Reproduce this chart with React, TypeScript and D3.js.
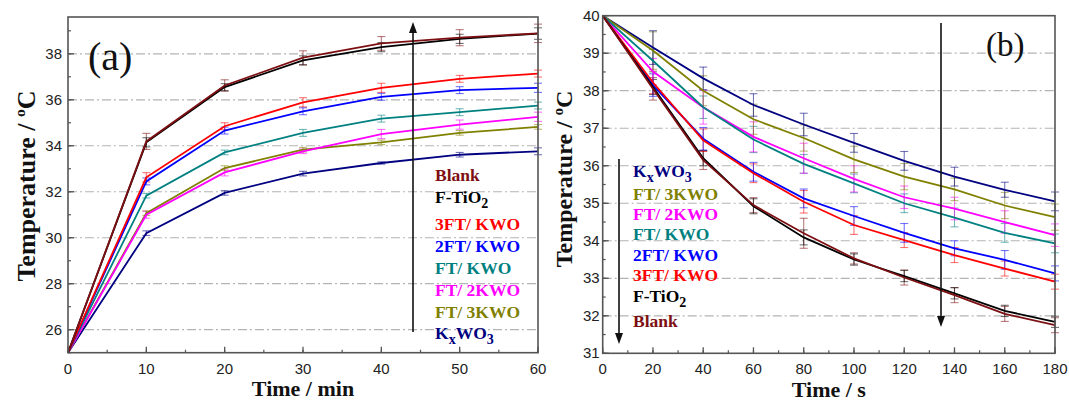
import React from 'react';
import * as d3 from 'd3';

// ---------- shared ----------
const seriesNames = ['Blank', 'F-TiO2', '3FT/ KWO', '2FT/ KWO', 'FT/ KWO', 'FT/ 2KWO', 'FT/ 3KWO', 'KxWO3'];
const seriesColors = ['#7d0f12', '#000000', '#ff0000', '#0000ff', '#008080', '#ff00ff', '#808000', '#000080'];

// ---------- panel (a) heating ----------
const timeA = [0, 10, 20, 30, 40, 50, 60];
const blankA = [25, 34.19, 36.62, 37.83, 38.45, 38.70, 38.89];
const ftioA = [25, 34.15, 36.55, 37.71, 38.29, 38.65, 38.88];
const ft3kwoA = [25, 32.63, 34.85, 35.89, 36.52, 36.91, 37.14];
const ft2kwoA = [25, 32.45, 34.66, 35.50, 36.13, 36.42, 36.52];
const ftkwoA = [25, 31.83, 33.71, 34.56, 35.18, 35.46, 35.75];
const ft_2kwoA = [25, 31.0, 32.84, 33.76, 34.51, 34.92, 35.26];
const ft_3kwoA = [25, 31.07, 33.03, 33.83, 34.15, 34.56, 34.82];
const kwoA = [25, 30.2, 31.95, 32.79, 33.25, 33.61, 33.76];

const errBlankA = [0, 0.35, 0.25, 0.3, 0.3, 0.35, 0.4];
const errFtioA = [0, 0.2, 0.15, 0.2, 0.2, 0.2, 0.25];
const errFt3kwoA = [0, 0.2, 0.15, 0.2, 0.2, 0.15, 0.15];
const errFt2kwoA = [0, 0.15, 0.15, 0.15, 0.15, 0.15, 0.2];
const errFtkwoA = [0, 0.1, 0.1, 0.15, 0.15, 0.15, 0.15];
const errFt_2kwoA = [0, 0.15, 0.15, 0.1, 0.2, 0.2, 0.2];
const errFt_3kwoA = [0, 0.1, 0.1, 0.1, 0.1, 0.1, 0.1];
const errKwoA = [0, 0.1, 0.1, 0.1, 0.05, 0.1, 0.15];

const xTicksA = [0, 10, 20, 30, 40, 50, 60];
const yTicksA = [26, 28, 30, 32, 34, 36, 38];

// ---------- panel (b) cooling ----------
const timeB = [0, 20, 40, 60, 80, 100, 120, 140, 160, 180];
const blankB = [40, 38.05, 36.15, 34.95, 34.2, 33.53, 33.02, 32.55, 32.05, 31.75];
const ftioB = [40, 38.1, 36.2, 34.92, 34.09, 33.5, 33.06, 32.6, 32.13, 31.84];
const ft3kwoB = [40, 38.22, 36.68, 35.8, 35.04, 34.42, 34.02, 33.62, 33.26, 32.91];
const ft2kwoB = [40, 38.15, 36.72, 35.84, 35.13, 34.66, 34.21, 33.8, 33.49, 33.13];
const ftkwoB = [40, 38.8, 37.56, 36.7, 36.05, 35.53, 35.0, 34.62, 34.21, 33.93];
const ft_2kwoB = [40, 38.51, 37.56, 36.77, 36.2, 35.65, 35.16, 34.86, 34.5, 34.15];
const ft_3kwoB = [40, 39.07, 38.0, 37.24, 36.74, 36.17, 35.71, 35.37, 34.94, 34.63];
const kwoB = [40, 39.15, 38.33, 37.62, 37.1, 36.61, 36.13, 35.71, 35.36, 35.05];

const errBlankB = [0, 0.3, 0.25, 0.2, 0.4, 0.15, 0.2, 0.2, 0.2, 0.2];
const errFtioB = [0, 0.2, 0.2, 0.2, 0.2, 0.15, 0.15, 0.15, 0.15, 0.15];
const errFt3kwoB = [0, 0.3, 0.3, 0.25, 0.3, 0.25, 0.2, 0.2, 0.2, 0.2];
const errFt2kwoB = [0, 0.3, 0.3, 0.25, 0.25, 0.25, 0.25, 0.2, 0.25, 0.2];
const errFtkwoB = [0, 0.3, 0.3, 0.35, 0.25, 0.25, 0.25, 0.25, 0.25, 0.25];
const errFt_2kwoB = [0, 0.35, 0.45, 0.4, 0.4, 0.35, 0.3, 0.3, 0.3, 0.3];
const errFt_3kwoB = [0, 0.5, 0.4, 0.4, 0.35, 0.35, 0.35, 0.3, 0.35, 0.35];
const errKwoB = [0, 0.45, 0.3, 0.3, 0.3, 0.25, 0.25, 0.25, 0.2, 0.25];

const xTicksB = [0, 20, 40, 60, 80, 100, 120, 140, 160, 180];
const yTicksB = [31, 32, 33, 34, 35, 36, 37, 38, 39, 40];

const seriesA = [blankA, ftioA, ft3kwoA, ft2kwoA, ftkwoA, ft_2kwoA, ft_3kwoA, kwoA];
const errorsA = [errBlankA, errFtioA, errFt3kwoA, errFt2kwoA, errFtkwoA, errFt_2kwoA, errFt_3kwoA, errKwoA];
const seriesB = [blankB, ftioB, ft3kwoB, ft2kwoB, ftkwoB, ft_2kwoB, ft_3kwoB, kwoB];
const errorsB = [errBlankB, errFtioB, errFt3kwoB, errFt2kwoB, errFtkwoB, errFt_2kwoB, errFt_3kwoB, errKwoB];

const serif = "'Liberation Serif', 'Times New Roman', serif";
const sans = "'Liberation Sans', Arial, sans-serif";

function LegendLabel({ name, x, y, color }: { name: string; x: number; y: number; color: string }) {
  const common = { x, y, fill: color, fontFamily: serif, fontWeight: 700, fontSize: 17.5 } as any;
  if (name === 'F-TiO2') {
    return (
      <text {...common}>
        F-TiO<tspan fontSize={14} dy={5}>2</tspan>
      </text>
    );
  }
  if (name === 'KxWO3') {
    return (
      <text {...common}>
        K<tspan fontSize={14} dy={5}>x</tspan>
        <tspan dy={-5}>WO</tspan>
        <tspan fontSize={14} dy={5}>3</tspan>
      </text>
    );
  }
  return <text {...common}>{name}</text>;
}

type PanelProps = {
  xDomain: [number, number];
  yDomain: [number, number];
  xRange: [number, number];
  yRange: [number, number];
  times: number[];
  series: number[][];
  errors: number[][];
  xTicks: number[];
  yTicks: number[];
  xMinorStep: number;
  yMinorStep: number;
  gridTicks: number[];
  xTitle: string;
  xTitleY: number;
  yTitleX: number;
  yTitleCenter: number;
  yTitleSize: number;
  tickLabelGap: number;
  label: string;
  labelX: number;
  labelY: number;
  labelSize: number;
  legendOrder: number[];
  legendX: number;
  legendY: number[];
  arrows: { x: number; y1: number; y2: number }[];
};

function Panel(p: PanelProps) {
  const x = d3.scaleLinear().domain(p.xDomain).range(p.xRange);
  const y = d3.scaleLinear().domain(p.yDomain).range(p.yRange);
  const [x0, x1] = p.xRange;
  const [yb, yt] = p.yRange;
  const line = d3
    .line<[number, number]>()
    .x((d) => x(d[0]))
    .y((d) => y(d[1]));
  const xMinor = d3.range(p.xDomain[0], p.xDomain[1] + 1e-9, p.xMinorStep);
  const yMinor = d3.range(Math.ceil(p.yDomain[0]), p.yDomain[1] + 1e-9, p.yMinorStep);
  const cap = 4;
  const ss = p.yTitleSize * 0.6;
  return (
    <g>
      {/* grid */}
      {p.gridTicks.map((t) => (
        <line key={'g' + t} x1={x0} x2={x1} y1={y(t)} y2={y(t)} stroke="#b4b4b4" strokeWidth={1.2} strokeDasharray="9,3,2,3" />
      ))}
      {/* error bars */}
      {p.series.map((s, si) => (
        <g key={'e' + si} stroke={seriesColors[si]} strokeOpacity={0.55} strokeWidth={1.1}>
          {s.map((v, i) => {
            const e = p.errors[si][i];
            if (!e) return null;
            const cx = x(p.times[i]);
            return (
              <g key={i}>
                <line x1={cx} x2={cx} y1={y(v - e)} y2={y(v + e)} />
                <line x1={cx - cap} x2={cx + cap} y1={y(v - e)} y2={y(v - e)} />
                <line x1={cx - cap} x2={cx + cap} y1={y(v + e)} y2={y(v + e)} />
              </g>
            );
          })}
        </g>
      ))}
      {/* lines */}
      {p.series
        .map((s, si) => ({ s, si }))
        .reverse()
        .map(({ s, si }) => (
          <path
            key={'l' + si}
            d={line(s.map((v, i) => [p.times[i], v] as [number, number])) || ''}
            fill="none"
            stroke={seriesColors[si]}
            strokeWidth={1.8}
          />
        ))}
      {/* frame */}
      <rect x={x0} y={yt} width={x1 - x0} height={yb - yt} fill="none" stroke="#555" strokeWidth={1.6} />
      {/* minor ticks */}
      {xMinor.map((t) => (
        <line key={'xm' + t} x1={x(t)} x2={x(t)} y1={yb} y2={yb - 3} stroke="#555" strokeWidth={1.2} />
      ))}
      {yMinor.map((t) => (
        <line key={'ym' + t} x1={x0} x2={x0 + 3} y1={y(t)} y2={y(t)} stroke="#555" strokeWidth={1.2} />
      ))}
      {/* major ticks and labels */}
      {p.xTicks.map((t) => (
        <g key={'xt' + t}>
          <line x1={x(t)} x2={x(t)} y1={yb} y2={yb - 6} stroke="#555" strokeWidth={1.3} />
          <text x={x(t)} y={yb + 21} textAnchor="middle" fontFamily={sans} fontSize={15} fill="#222">
            {t}
          </text>
        </g>
      ))}
      {p.yTicks.map((t) => (
        <g key={'yt' + t}>
          <line x1={x0} x2={x0 + 6} y1={y(t)} y2={y(t)} stroke="#555" strokeWidth={1.3} />
          <text x={x0 - p.tickLabelGap} y={y(t) + 5} textAnchor="end" fontFamily={sans} fontSize={15} fill="#222">
            {t}
          </text>
        </g>
      ))}
      {/* titles */}
      <text x={(x0 + x1) / 2} y={p.xTitleY} textAnchor="middle" fontFamily={serif} fontWeight={700} fontSize={22} fill="#111">
        {p.xTitle}
      </text>
      <text
        transform={`translate(${p.yTitleX},${p.yTitleCenter}) rotate(-90)`}
        textAnchor="middle"
        fontFamily={serif}
        fontWeight={700}
        fontSize={p.yTitleSize}
        fill="#111"
      >
        Temperature / <tspan fontSize={ss} dy={-p.yTitleSize * 0.38}>o</tspan>
        <tspan dy={p.yTitleSize * 0.38}>C</tspan>
      </text>
      <text x={p.labelX} y={p.labelY} fontFamily={serif} fontSize={p.labelSize} fill="#111">
        {p.label}
      </text>
      {/* arrows */}
      {p.arrows.map((a, i) => {
        const dir = a.y2 > a.y1 ? 1 : -1;
        return (
          <g key={'a' + i}>
            <line x1={a.x} x2={a.x} y1={a.y1} y2={a.y2 - dir * 8} stroke="#111" strokeWidth={1.6} />
            <path d={`M${a.x},${a.y2} L${a.x - 4},${a.y2 - dir * 11} L${a.x + 4},${a.y2 - dir * 11} Z`} fill="#111" />
          </g>
        );
      })}
      {/* legend */}
      {p.legendOrder.map((si, k) => (
        <LegendLabel key={'lg' + si} name={seriesNames[si]} x={p.legendX} y={p.legendY[k]} color={seriesColors[si]} />
      ))}
    </g>
  );
}

export default function App() {
  return (
    <svg
      width={1069}
      height={403}
      viewBox="0 0 1069 403"
      style={{ position: 'absolute', left: 0, top: 0, background: '#fff' }}
    >
      <rect x={0} y={0} width={1069} height={403} fill="#fff" />
      <Panel
        xDomain={[0, 60]}
        yDomain={[25, 39.6]}
        xRange={[68, 538]}
        yRange={[352.7, 17]}
        times={timeA}
        series={seriesA}
        errors={errorsA}
        xTicks={xTicksA}
        yTicks={yTicksA}
        xMinorStep={5}
        yMinorStep={1}
        gridTicks={yTicksA}
        xTitle="Time / min"
        xTitleY={396}
        yTitleX={35}
        yTitleCenter={186}
        yTitleSize={26}
        tickLabelGap={6}
        label="(a)"
        labelX={88}
        labelY={70}
        labelSize={40}
        legendOrder={[0, 1, 2, 3, 4, 5, 6, 7]}
        legendX={435}
        legendY={[181, 203, 230, 252, 274, 296, 318, 339]}
        arrows={[{ x: 413, y1: 332, y2: 22 }]}
      />
      <Panel
        xDomain={[0, 180]}
        yDomain={[31, 40]}
        xRange={[602.7, 1055]}
        yRange={[353.3, 15.7]}
        times={timeB}
        series={seriesB}
        errors={errorsB}
        xTicks={xTicksB}
        yTicks={yTicksB}
        xMinorStep={10}
        yMinorStep={0.5}
        gridTicks={[32, 33, 34, 35, 36, 37, 38, 39]}
        xTitle="Time / s"
        xTitleY={397}
        yTitleX={572}
        yTitleCenter={179}
        yTitleSize={24}
        tickLabelGap={3}
        label="(b)"
        labelX={986}
        labelY={56}
        labelSize={33}
        legendOrder={[7, 6, 5, 4, 3, 2, 1, 0]}
        legendX={633}
        legendY={[177, 200, 220, 240, 261, 281, 302, 327]}
        arrows={[
          { x: 941, y1: 23, y2: 327 },
          { x: 619, y1: 159, y2: 344 },
        ]}
      />
    </svg>
  );
}
